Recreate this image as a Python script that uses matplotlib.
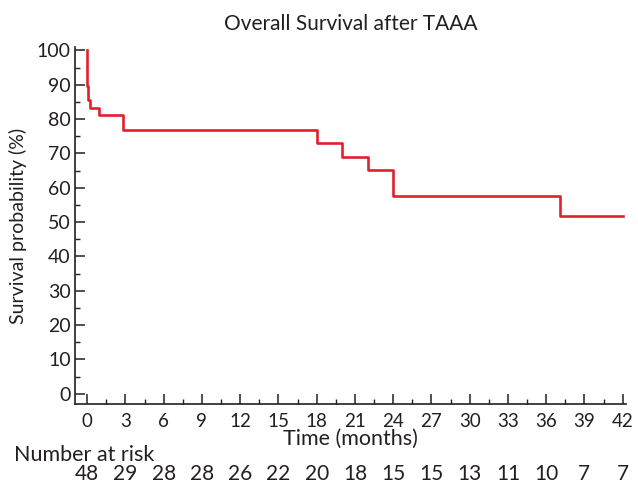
import matplotlib
matplotlib.use("Agg")
import matplotlib.pyplot as plt
from matplotlib.ticker import MultipleLocator

# Kaplan-Meier step values
time_months = [0, 0, 0.08, 0.2, 0.9, 2.85, 18.0, 20.0, 22.0, 24.0, 37.1, 42.0]
survival_pct = [100, 89.6, 85.6, 83.3, 81.2, 76.7, 73.0, 69.1, 65.3, 57.5, 51.9, 51.9]

risk_times = [0, 3, 6, 9, 12, 15, 18, 21, 24, 27, 30, 33, 36, 39, 42]
number_at_risk = [48, 29, 28, 28, 26, 22, 20, 18, 15, 15, 13, 11, 10, 7, 7]

plt.rcParams['font.family'] = ['Lato', 'DejaVu Sans']
ink = '#231f20'

def main():
    fig = plt.figure(figsize=(6.38, 4.84), dpi=100)
    ax = fig.add_axes([0.1176, 0.165, 0.8634, 0.738])

    ax.step(time_months, survival_pct, where='post', color='#e0202e', lw=1.9)

    ax.set_xlim(-0.95, 42.25)
    ax.set_ylim(-3, 101)
    ax.xaxis.set_major_locator(MultipleLocator(3))
    ax.xaxis.set_minor_locator(MultipleLocator(1.5))
    ax.yaxis.set_major_locator(MultipleLocator(10))
    ax.yaxis.set_minor_locator(MultipleLocator(5))
    ax.set_yticks(range(0, 101, 10))

    for s in ['top', 'right']:
        ax.spines[s].set_visible(False)
    for s in ['left', 'bottom']:
        ax.spines[s].set_color(ink)
        ax.spines[s].set_linewidth(1.2)

    ax.tick_params(which='major', direction='in', length=7.5, width=1.1,
                   color=ink, labelsize=14, labelcolor=ink)
    ax.tick_params(which='minor', direction='in', length=3.8, width=1.0, color=ink)
    ax.tick_params(axis='y', pad=3)
    ax.tick_params(axis='x', pad=6.5, labelsize=13.5)

    ax.set_title("Overall Survival after TAAA", fontsize=15, color=ink, pad=12)
    ax.set_xlabel("Time (months)", fontsize=15.5, color=ink)
    ax.xaxis.set_label_coords(0.5, -0.07)
    ax.set_ylabel("Survival probability (%)", fontsize=14, color=ink, labelpad=7)

    fig.text(14 / 638, 1 - 455 / 484, "Number at risk", fontsize=15.5, color=ink,
             ha='left', va='center')
    for t, n in zip(risk_times, number_at_risk):
        ax.text(t, -0.195, str(n), transform=ax.get_xaxis_transform(),
                ha='center', va='center', fontsize=15, color=ink)

    fig.savefig("out.png", dpi=100)

if __name__ == "__main__":
    main()
